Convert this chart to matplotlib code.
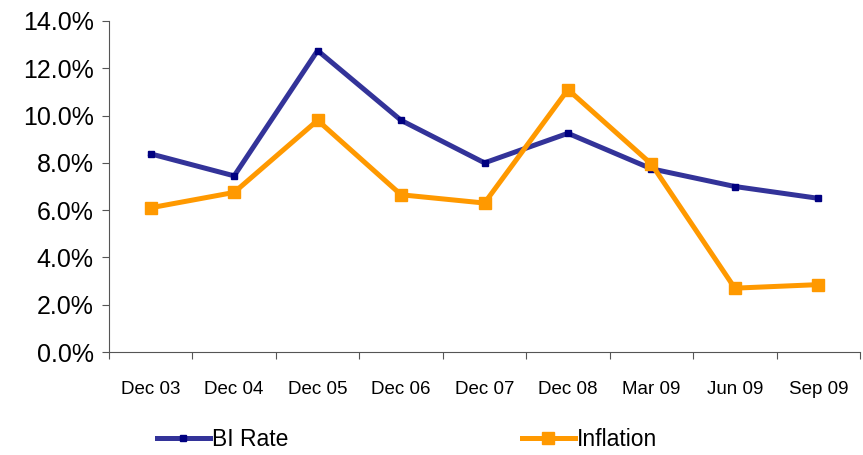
import matplotlib.pyplot as plt
from matplotlib.ticker import FixedLocator, PercentFormatter

periods = ['Dec 03', 'Dec 04', 'Dec 05', 'Dec 06', 'Dec 07', 'Dec 08', 'Mar 09', 'Jun 09', 'Sep 09']
bi_rate = [8.38, 7.45, 12.75, 9.8, 8.0, 9.25, 7.75, 7.0, 6.5]
inflation = [6.1, 6.75, 9.8, 6.65, 6.3, 11.1, 7.95, 2.7, 2.85]

plt.rcParams['font.family'] = ['Liberation Sans', 'DejaVu Sans']

fig = plt.figure(figsize=(8.63, 4.55), dpi=100)
ax = fig.add_axes([109/863, 1-352/455, (860-109)/863, (352-21)/455])

x = list(range(len(periods)))
ax.plot(x, bi_rate, color='#333399', lw=3.6, marker='s', ms=5,
        mfc='#000080', mec='#000080', label='BI Rate')
ax.plot(x, inflation, color='#FF9900', lw=3.6, marker='s', ms=8,
        mfc='#FF9900', mec='#FF9900', label='Inflation')

ax.set_xlim(-0.5, len(periods) - 0.5)
ax.set_ylim(0, 14)
ax.set_yticks(range(0, 15, 2))
ax.yaxis.set_major_formatter(PercentFormatter(decimals=1))
ax.tick_params(axis='y', labelsize=18, length=5, color='#555555', pad=6)

ax.xaxis.set_major_locator(FixedLocator([i - 0.5 for i in range(len(periods) + 1)]))
ax.xaxis.set_minor_locator(FixedLocator(x))
ax.set_xticklabels([], minor=False)
ax.set_xticklabels(periods, minor=True)
ax.tick_params(axis='x', which='major', length=5, color='#555555')
ax.tick_params(axis='x', which='minor', length=0, labelsize=13.5, pad=21)

for s in ['top', 'right']:
    ax.spines[s].set_visible(False)
for s in ['left', 'bottom']:
    ax.spines[s].set_color('#555555')

fig.legend(loc='center', bbox_to_anchor=(407/863, 1-440/455), ncol=2, frameon=False,
           fontsize=16.5, handlelength=2.3, handletextpad=0.1, columnspacing=10.2)

fig.savefig('out.png', dpi=100)
